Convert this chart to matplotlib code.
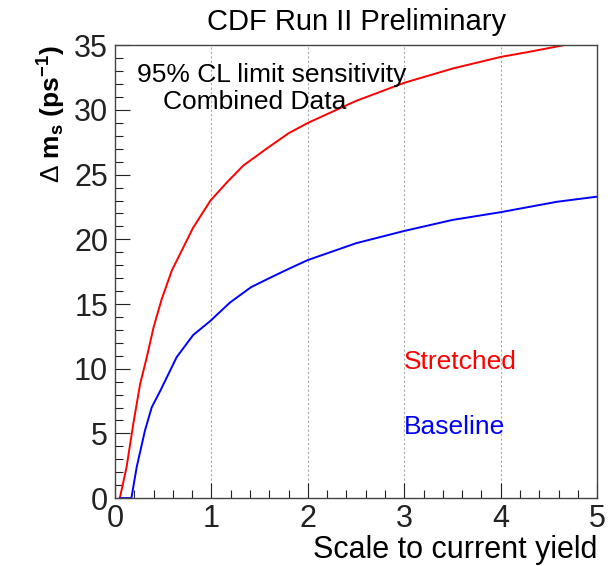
import matplotlib
matplotlib.use("Agg")
import matplotlib.pyplot as plt
from matplotlib.ticker import MultipleLocator

plt.rcParams["font.family"] = ["Liberation Sans", "DejaVu Sans"]
plt.rcParams["mathtext.fontset"] = "custom"
plt.rcParams["mathtext.rm"] = "Liberation Sans"
plt.rcParams["mathtext.bf"] = "Liberation Sans:bold"
plt.rcParams["mathtext.it"] = "Liberation Sans:italic"

# values
stretched_x = [0.05, 0.12, 0.19, 0.26, 0.33, 0.40, 0.485, 0.59, 0.69, 0.81,
               0.99, 1.16, 1.33, 1.57, 1.8, 2.0, 2.5, 3.0, 3.5, 4.0, 4.3, 4.65]
stretched_y = [0, 2.4, 5.75, 8.8, 10.9, 13.2, 15.4, 17.6, 19.1, 20.9,
               23.0, 24.4, 25.7, 27.0, 28.2, 29.0, 30.7, 32.1, 33.2, 34.1, 34.5, 35.0]

baseline_x = [0.05, 0.17, 0.225, 0.31, 0.38, 0.47, 0.64, 0.81, 0.99, 1.19,
              1.41, 1.6, 1.81, 2.0, 2.5, 3.0, 3.5, 4.0, 4.58, 5.0]
baseline_y = [0, 0, 2.4, 5.2, 7.0, 8.3, 10.9, 12.6, 13.7, 15.1,
              16.3, 17.0, 17.75, 18.4, 19.7, 20.65, 21.5, 22.1, 22.9, 23.3]

x_ticks = [0, 1, 2, 3, 4, 5]
y_ticks = [0, 5, 10, 15, 20, 25, 30, 35]

fig = plt.figure(figsize=(6.15, 5.66), dpi=100)
ax = fig.add_axes([0.187, 0.120, 0.784, 0.800])

for gx in x_ticks[1:-1]:
    ax.axvline(gx, color="#aaaaaa", linestyle=(0, (2, 2)), linewidth=0.8, zorder=0)

ax.plot(stretched_x, stretched_y, color="#ff0000", linewidth=1.4)
ax.plot(baseline_x, baseline_y, color="#0000ff", linewidth=1.4)

ax.set_xlim(0, 5)
ax.set_ylim(0, 35)
ax.set_xticks(x_ticks)
ax.set_yticks(y_ticks)
ax.xaxis.set_minor_locator(MultipleLocator(0.2))
ax.yaxis.set_minor_locator(MultipleLocator(1))
ax.tick_params(which="both", direction="in", top=False, right=False,
               colors="#222222", labelsize=22)
ax.tick_params(axis="x", pad=4)
ax.tick_params(axis="y", pad=5)
ax.tick_params(which="major", length=11, width=0.8)
ax.tick_params(which="minor", length=5.5, width=0.8)
for s in ax.spines.values():
    s.set_color("#444444")
    s.set_linewidth(1.0)

ax.set_xlabel("Scale to current yield", fontsize=22, loc="right", labelpad=1)
ax.set_ylabel(r"$\Delta\ \mathbf{m_s\ (ps^{-1})}$", fontsize=19, loc="top", labelpad=4)

fig.text(0.58, 0.962, "CDF Run II Preliminary", fontsize=21, ha="center", va="center")
ax.text(0.324, 0.934, "95% CL limit sensitivity", transform=ax.transAxes,
        fontsize=19, ha="center", va="center")
ax.text(0.29, 0.874, "Combined Data", transform=ax.transAxes,
        fontsize=19, ha="center", va="center")
ax.text(3.0, 10.5, "Stretched", color="#ff0000", fontsize=19, va="center")
ax.text(3.0, 5.5, "Baseline", color="#0000ff", fontsize=19, va="center")

fig.savefig("out.png", dpi=100)
